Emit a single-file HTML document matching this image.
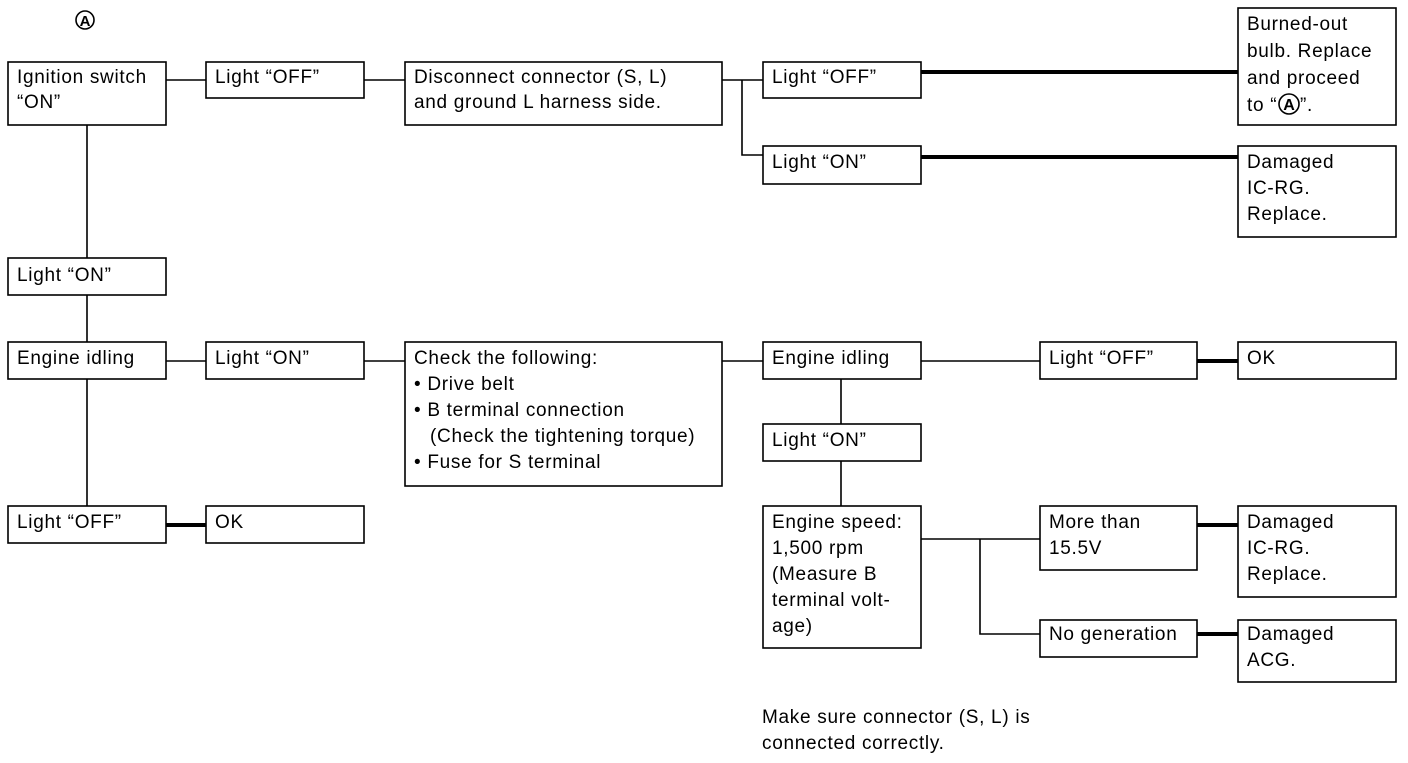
<!DOCTYPE html>
<html><head><meta charset="utf-8"><style>
body{margin:0;background:#fff;}
svg text{font-family:"Liberation Sans",Arial,sans-serif;font-size:19px;letter-spacing:0.7px;fill:#000;}
</style></head><body>
<svg width="1408" height="758" viewBox="0 0 1408 758" xmlns="http://www.w3.org/2000/svg">
<g fill="none" stroke="#000" stroke-width="1.6">
<rect x="8" y="62" width="158" height="63"/>
<rect x="206" y="62" width="158" height="36"/>
<rect x="405" y="62" width="317" height="63"/>
<rect x="763" y="62" width="158" height="36"/>
<rect x="1238" y="8" width="158" height="117"/>
<rect x="763" y="146" width="158" height="38"/>
<rect x="1238" y="146" width="158" height="91"/>
<rect x="8" y="258" width="158" height="37"/>
<rect x="8" y="342" width="158" height="37"/>
<rect x="206" y="342" width="158" height="37"/>
<rect x="405" y="342" width="317" height="144"/>
<rect x="763" y="342" width="158" height="37"/>
<rect x="1040" y="342" width="157" height="37"/>
<rect x="1238" y="342" width="158" height="37"/>
<rect x="763" y="424" width="158" height="37"/>
<rect x="763" y="506" width="158" height="142"/>
<rect x="1040" y="506" width="157" height="64"/>
<rect x="1238" y="506" width="158" height="91"/>
<rect x="1040" y="620" width="157" height="37"/>
<rect x="1238" y="620" width="158" height="62"/>
<rect x="8" y="506" width="158" height="37"/>
<rect x="206" y="506" width="158" height="37"/>
<path d="M166 80H206M364 80H405M722 80H763M742 80V155H763M87 125V258M87 295V342M87 379V506M166 361H206M364 361H405M722 361H763M921 361H1040M841 379V424M841 461V506M921 539H1040M980 539V634H1040"/>
<circle cx="85" cy="20" r="9"/>
</g>
<g stroke="#000" stroke-width="4">
<path d="M921 72H1238M921 157H1238M1197 361H1238M166 525H206M1197 525H1238M1197 634H1238"/>
</g>
<text x="85" y="26" text-anchor="middle" style="font-size:15px;font-weight:bold;letter-spacing:0">A</text>
<text x="17" y="83">Ignition switch</text><text x="17" y="108">“ON”</text>
<text x="215" y="83">Light “OFF”</text>
<text x="414" y="83">Disconnect connector (S, L)</text><text x="414" y="108">and ground L harness side.</text>
<text x="772" y="83">Light “OFF”</text>
<text x="1247" y="30">Burned-out</text><text x="1247" y="57">bulb. Replace</text><text x="1247" y="84">and proceed</text>
<text x="1247" y="111">to “</text><circle cx="1289" cy="104" r="10" fill="none" stroke="#000" stroke-width="1.6"/><text x="1289" y="110" text-anchor="middle" style="font-size:16px;font-weight:bold;letter-spacing:0">A</text><text x="1300" y="111">”.</text>
<text x="772" y="168">Light “ON”</text>
<text x="1247" y="168">Damaged</text><text x="1247" y="194">IC-RG.</text><text x="1247" y="220">Replace.</text>
<text x="17" y="281">Light “ON”</text>
<text x="17" y="364">Engine idling</text>
<text x="215" y="364">Light “ON”</text>
<text x="414" y="364">Check the following:</text>
<text x="414" y="390">• Drive belt</text>
<text x="414" y="416">• B terminal connection</text>
<text x="430" y="442">(Check the tightening torque)</text>
<text x="414" y="468">• Fuse for S terminal</text>
<text x="772" y="364">Engine idling</text>
<text x="1049" y="364">Light “OFF”</text>
<text x="1247" y="364">OK</text>
<text x="772" y="446">Light “ON”</text>
<text x="772" y="528">Engine speed:</text><text x="772" y="554">1,500 rpm</text><text x="772" y="580">(Measure B</text><text x="772" y="606">terminal volt-</text><text x="772" y="632">age)</text>
<text x="1049" y="528">More than</text><text x="1049" y="554">15.5V</text>
<text x="1247" y="528">Damaged</text><text x="1247" y="554">IC-RG.</text><text x="1247" y="580">Replace.</text>
<text x="1049" y="640">No generation</text>
<text x="1247" y="640">Damaged</text><text x="1247" y="666">ACG.</text>
<text x="17" y="528">Light “OFF”</text>
<text x="215" y="528">OK</text>
<text x="762" y="723">Make sure connector (S, L) is</text>
<text x="762" y="749">connected correctly.</text>
</svg>
</body></html>
